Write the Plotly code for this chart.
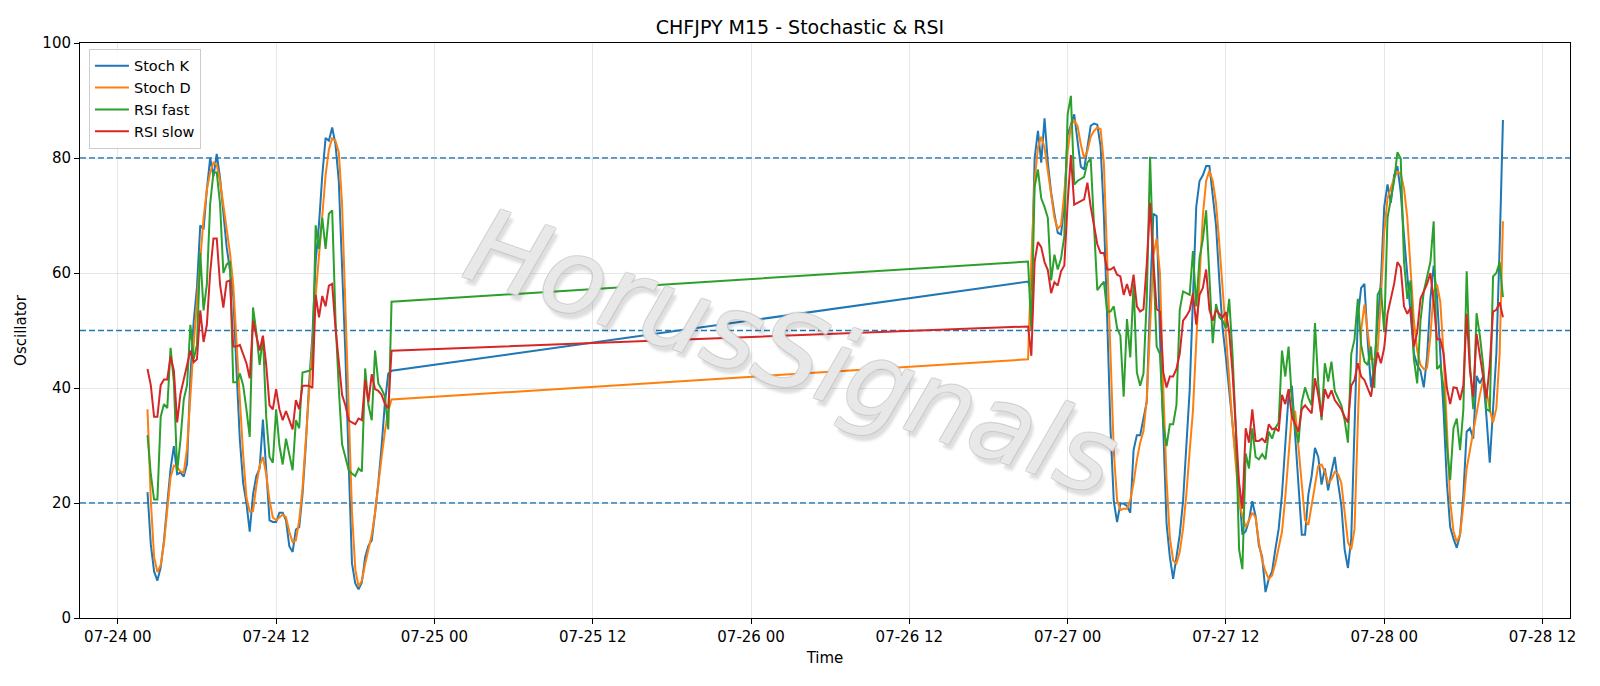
import pandas as pd
import plotly.graph_objects as go

# ---- data (15-minute bars, two sessions) ----
seg1_start = "2025-07-24 02:15"
seg2_start = "2025-07-26 21:00"

stoch_k_1 = [21.9, 12.8, 8.1, 6.5, 8.8, 13.5, 19.8, 26.0, 29.9, 25.0, 25.3, 24.6, 26.8, 42.0, 51.5, 57.5,
             68.3, 67.6, 74.5, 80.0, 76.8, 80.7, 76.5, 71.0, 64.5, 60.5, 56.0, 43, 31, 23.5, 20, 15, 21.5,
             24.7, 26, 34.5, 25.5, 17, 16.7, 16.7, 18.3, 18.3, 17, 12.5, 11.5, 15.4, 15.8, 21.5, 30, 40.8, 49,
             62, 68.5, 77, 83.5, 83, 85.3, 82.4, 76, 62, 46, 27, 9.5, 6, 5, 6.2, 10.6, 12.6, 13.5, 18.3, 23.5,
             30, 37.5, 42.5, 43]
stoch_d_1 = [36.3, 20.5, 10.6, 8.0, 9.2, 13.0, 18.8, 24.5, 26.5, 26.2, 25.5, 25.3, 29.5, 39.0, 47.5, 55.0,
             61.5, 69.5, 74.5, 77.5, 79.2, 78.8, 76.0, 72, 68, 63.5, 58, 49, 38, 28.5, 21, 18.5, 18.6, 23,
             26.5, 28, 25, 20.5, 17.5, 17, 17.5, 18, 17.5, 15, 13.2, 13.5, 17, 22.5, 31, 40, 48, 56, 63, 70,
             77, 81.5, 83.4, 83, 81, 72, 56, 36.5, 18.5, 8.5, 5.5, 6.5, 9.4, 12, 14.5, 18.3, 23.5, 28, 32.5,
             36, 38]
rsi_fast_1 = [31.8, 25.0, 20.6, 20.6, 35.0, 37.2, 36.5, 47.0, 41.0, 25.5, 31.0, 38.0, 40.5, 51.0, 45.0, 47.5,
              63.5, 53.5, 58.0, 72.0, 77.5, 77.5, 72.0, 60.0, 61.5, 62.0, 41.0, 41, 42.5, 40.5, 36.3, 31.5,
              54, 49.7, 44, 49, 35, 28, 27, 36.3, 30, 26.7, 31.2, 28.6, 25.7, 34.4, 33, 42.7, 42.8, 43,
              43.5, 68.3, 64.2, 69.6, 64.2, 70.3, 70.9, 52, 40, 30.2, 28, 25.7, 25.1, 24.7, 26, 25.5, 43.4,
              37, 34.4, 46.5, 40.8, 39.8, 38.5, 32.8, 55]
rsi_slow_1 = [43.3, 40.5, 35.0, 35.0, 40.5, 41.5, 41.5, 45.5, 43.0, 34.0, 39.0, 41.5, 44.0, 46.5, 44.5, 45.0,
              53.5, 48.0, 51.0, 60.0, 66.0, 66.0, 58.0, 54.0, 58.5, 58.7, 47.2, 47.2, 47.5, 46, 44.3, 41.7,
              51.7, 49.1, 46.5, 49.1, 44, 37, 36.3, 39.8, 36.3, 34.4, 36, 34.4, 32.8, 37.9, 36.3, 40.4, 40.4,
              40.4, 40, 56.2, 52.3, 56, 54.2, 57.8, 58.1, 50.4, 44.6, 38.8, 37, 34.4, 34, 33.7, 34.7, 34.4,
              41.4, 37.6, 42.4, 39.8, 39.5, 38.8, 37.2, 36.5, 46.5]

stoch_k_2 = [58.5, 57, 80, 84.7, 79.2, 86.9, 79.2, 74, 70.3, 67, 66.7, 72, 84, 86, 87.6, 83, 78.5, 78, 81.5,
             85.6, 86, 85.8, 82, 70, 52, 33, 20.3, 16.7, 19.9, 19.9, 19.5, 18.3, 29.2, 31.8, 31.8, 35, 37.6,
             55.5, 70.3, 69.9, 49, 33, 16.4, 10.6, 6.8, 10.6, 14.5, 20.3, 29.9, 39.5, 55.5, 71.5, 76, 77, 78.6,
             78.6, 73.5, 68.3, 58.7, 50.4, 45.3, 39.5, 33.7, 27.3, 22.2, 14.5, 15.1, 17, 20.3, 17.7, 12.6,
             10.6, 4.5, 6.8, 8.1, 12, 15.5, 21.5, 31.2, 38.8, 40.4, 31.2, 22.2, 14.5, 14.5, 21.5, 24.7, 29.6,
             28, 23.2, 26, 22.2, 25.4, 28, 23.5, 19.6, 11.9, 8.7, 13.8, 33, 52.3, 57.4, 58.1, 48, 40.1, 44,
             51.7, 58.7, 71.5, 75.4, 72.2, 77, 78.6, 74, 66.5, 60, 53, 46, 44, 43, 40.1, 45.5, 55.5, 61.3,
             56, 46, 36, 23.5, 15.8, 13.8, 12.2, 14.5, 21.5, 32.4, 33, 31.2, 42.1, 40.8, 42, 35, 27, 36.3,
             45.9, 64.5, 86.6]
stoch_d_2 = [45, 62, 76, 81.8, 83.7, 81.8, 78, 73.5, 69.6, 67.7, 68.3, 74, 81, 85.6, 86.6, 85.6, 82.4, 80,
             81.2, 83.7, 84.7, 85.3, 85, 79, 64, 46, 29, 20.5, 18.8, 19, 19, 20.5, 23.5, 27.5, 30.5, 32.5, 38,
             52, 63, 66, 60, 40, 24, 14, 10, 9.5, 11.5, 15.5, 21.5, 29, 36, 48, 60, 70, 76, 77.8, 76, 72.2,
             65.1, 56.8, 49.1, 41.4, 33.7, 26.7, 20.3, 17.7, 15.8, 17, 18.3, 17.5, 13.2, 10, 8.1, 6.8, 7.4,
             9.5, 12.5, 15, 21, 29, 35.5, 36, 30, 23, 17, 16.2, 19.5, 23.5, 26.5, 26.7, 25.4, 23.5, 24.1,
             25.4, 25, 23.5, 18.3, 13.2, 11.9, 15.5, 34, 50, 54.5, 50, 45, 45, 46.5, 55.5, 67, 73, 74.7, 76.5,
             77.6, 77.3, 74.7, 69.6, 60.6, 51.7, 46.5, 44, 43.3, 43.5, 49.1, 56.8, 58, 55, 45.9, 33, 20.3,
             15.1, 13.2, 14.5, 19.6, 26, 29.2, 32.4, 36.3, 38.8, 41.4, 39.5, 36.3, 34, 36.5, 45.9, 69]
rsi_fast_2 = [62, 50, 75, 78, 73, 71.5, 69.6, 58.7, 63.2, 60.6, 62.5, 66.4, 87.6, 90.8, 75.4, 76, 76.3, 76.7,
              79.2, 79.9, 68.3, 57, 57.8, 58.5, 53.3, 53.3, 54.2, 50.4, 49.1, 38.5, 52, 45.3, 58.1, 42.7, 40.4,
              42.5, 55.5, 80.2, 61.9, 47.2, 45.9, 33.7, 29.9, 33.7, 33.7, 37, 53.6, 56.8, 56.5, 56.2, 63.8,
              54.2, 62.6, 65.8, 70.9, 58.7, 47.8, 54.6, 52.3, 51.7, 50.4, 55.5, 45.9, 33, 11.9, 8.5, 28.6, 26,
              33, 28, 27.6, 28.5, 27.6, 32.4, 31.2, 33, 34, 46.5, 42, 47.2, 38, 33, 30.5, 37.6, 40.1, 38.3, 37,
              51.3, 40.8, 34.4, 44.3, 41.1, 44.6, 39.5, 38.2, 37, 34.4, 30.5, 45.9, 48.5, 55.5, 47.5, 44.6, 44,
              47.2, 40, 56.2, 57.4, 49.7, 69.6, 72.8, 76, 81, 79.9, 62, 55.5, 58.7, 45, 40.8, 51.7, 56.8, 59.4,
              61.9, 69, 43.3, 44, 40, 30, 24, 33, 34.7, 29.2, 36.3, 60.3, 44, 36.3, 53, 49.1, 44, 36.3, 36,
              59.4, 60, 61.9, 55.8]
rsi_slow_2 = [50.7, 45.6, 62, 65.4, 64.5, 61.9, 60.5, 56.5, 58.4, 57.8, 60.3, 61.3, 72.2, 80.5, 71.9, 72.2,
              72.5, 72.8, 75.7, 71.5, 68.3, 65, 63.5, 63.5, 60.6, 60.6, 61, 59.7, 59.4, 56.2, 58.1, 56, 59.7,
              54.2, 53.3, 53.7, 61.5, 72.2, 62, 53.7, 53.3, 42.7, 40.1, 42, 42, 43.3, 46, 51.7, 52.5, 53.5,
              56.5, 51, 56.2, 57.4, 60.6, 53.6, 51.7, 53.6, 52.9, 52.3, 53.2, 49.7, 42.7, 33, 23.5, 19, 33,
              30.5, 36.3, 30.8, 30.8, 31.2, 30.5, 33.7, 32.8, 33, 32.5, 38.8, 37.2, 39.8, 35, 33.7, 32.4, 36.3,
              37, 36.3, 35.6, 41.7, 38.8, 35, 39.8, 38.2, 39.6, 37.9, 37.2, 36.3, 35, 34, 40.4, 41.4, 44.3, 42,
              41.4, 40, 38.5, 42.7, 46.2, 44.3, 47, 52.9, 55.5, 58.1, 61.9, 61, 54.2, 52.9, 54, 47.2, 49.7,
              55.5, 56.8, 58.1, 60, 55, 48.5, 48.5, 46, 40, 37.2, 40.1, 40, 37.9, 40.5, 52.9, 43, 38.5, 49.4,
              45.9, 42, 38.2, 44, 53.3, 53.6, 54.9, 52.3]

levels = [20, 50, 80]
y_ticks = [0, 20, 40, 60, 80, 100]

times = list(pd.date_range(seg1_start, periods=len(stoch_k_1), freq="15min")) + \
        list(pd.date_range(seg2_start, periods=len(stoch_k_2), freq="15min"))

series = [
    ("Stoch K", stoch_k_1 + stoch_k_2, "#1f77b4"),
    ("Stoch D", stoch_d_1 + stoch_d_2, "#ff7f0e"),
    ("RSI fast", rsi_fast_1 + rsi_fast_2, "#2ca02c"),
    ("RSI slow", rsi_slow_1 + rsi_slow_2, "#d62728"),
]

fig = go.Figure()
for name, vals, color in series:
    fig.add_trace(go.Scatter(x=times, y=vals, mode="lines", name=name,
                             line=dict(color=color, width=2)))

for lv in levels:
    fig.add_hline(y=lv, line=dict(color="#1f77b4", width=1.3, dash="6px,3px"), layer="below")

font = "DejaVu Sans, Arial, sans-serif"
fig.add_annotation(text="HorusSignals", xref="paper", yref="paper", x=0.478, y=0.463,
                   showarrow=False, textangle=19,
                   font=dict(family=font, size=104, color="rgba(255,255,255,0.6)", style="italic",
                             shadow="1px 1px 0 #c4c4c4, -1px -1px 0 #c4c4c4, 1px -1px 0 #c4c4c4, -1px 1px 0 #c4c4c4, 5px 5px 3px rgba(0,0,0,0.22)"))

fig.update_layout(
    width=1600, height=686,
    margin=dict(l=80, r=30, t=43, b=68),
    paper_bgcolor="white", plot_bgcolor="white",
    font=dict(family=font, size=15, color="black"),
    title=dict(text="CHFJPY M15 - Stochastic & RSI", x=0.5, xanchor="center",
               y=1 - 27 / 686, yanchor="middle", yref="container",
               font=dict(size=19, color="black")),
    legend=dict(x=0.006, y=0.99, xanchor="left", yanchor="top",
                bgcolor="rgba(255,255,255,0.85)", bordercolor="#cccccc", borderwidth=1,
                font=dict(size=14.5), itemwidth=34, tracegroupgap=0),
    showlegend=True,
)
fig.update_xaxes(
    type="date",
    range=["2025-07-23 21:08", "2025-07-28 14:05"],
    dtick=12 * 3600 * 1000, tick0="2025-07-24 00:00", tickformat="%m-%d %H",
    showline=True, linecolor="black", linewidth=1, mirror=True,
    ticks="outside", ticklen=5, tickcolor="black",
    showgrid=True, gridcolor="rgba(176,176,176,0.3)", gridwidth=1,
    zeroline=False,
    title=dict(text="Time", standoff=7, font=dict(size=15)),
)
fig.update_yaxes(
    range=[0, 100], tickvals=y_ticks,
    showline=True, linecolor="black", linewidth=1, mirror=True,
    ticks="outside", ticklen=5, tickcolor="black",
    showgrid=True, gridcolor="rgba(176,176,176,0.3)", gridwidth=1,
    zeroline=False,
    title=dict(text="Oscillator", standoff=12, font=dict(size=15)),
)

fig.write_html("out.html")
